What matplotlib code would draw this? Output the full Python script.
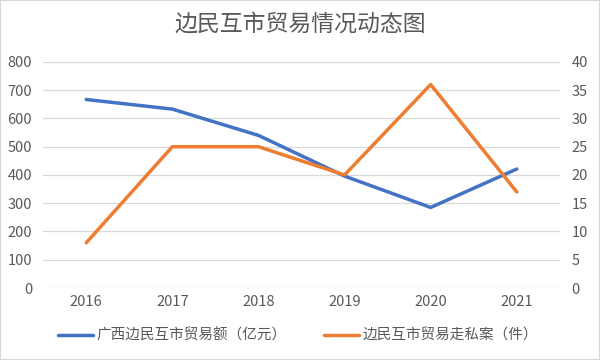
import matplotlib
matplotlib.use("Agg")
import matplotlib.pyplot as plt
from matplotlib.patches import Rectangle

plt.rcParams['font.family'] = ['Noto Sans CJK SC', 'DejaVu Sans']

years = ["2016", "2017", "2018", "2019", "2020", "2021"]
trade_amount = [667, 633, 540, 396, 285, 421]   # 亿元
smuggling_cases = [8, 25, 25, 20, 36, 17]       # 件

title = "边民互市贸易情况动态图"
label_trade = "广西边民互市贸易额（亿元）"
label_cases = "边民互市贸易走私案（件）"

blue = "#4472C4"
orange = "#ED7D31"
grey_text = "#595959"
grid_col = "#D9D9D9"

fig = plt.figure(figsize=(6, 3.6), dpi=100)
ax1 = fig.add_axes([0.072, 0.2, 0.861, 0.628])
ax2 = ax1.twinx()

x = range(len(years))
l1, = ax1.plot(x, trade_amount, color=blue, lw=2.5, solid_capstyle="round", zorder=3)
l2, = ax2.plot(x, smuggling_cases, color=orange, lw=2.5, solid_capstyle="round", zorder=3)

ax1.set_xlim(-0.5, len(years) - 0.5)
ax1.set_ylim(0, 800)
ax1.set_yticks(range(0, 801, 100))
ax2.set_ylim(0, 40)
ax2.set_yticks(range(0, 41, 5))
ax1.set_xticks(list(x))
ax1.set_xticklabels(years)

ax1.grid(axis="y", color=grid_col, lw=0.9, zorder=0)
for ax in (ax1, ax2):
    for s in ax.spines.values():
        s.set_visible(False)
    ax.tick_params(length=0, labelsize=10.5, labelcolor=grey_text)
ax1.tick_params(axis="y", pad=8)
ax2.tick_params(axis="y", pad=8.5)
ax1.tick_params(axis="x", pad=5)

fig.text(0.5, 0.933, title, ha="center", va="center", fontsize=16.5, color=grey_text)

fig.legend([l1, l2], [label_trade, label_cases], loc="center", bbox_to_anchor=(0.497, 0.067),
           ncol=2, frameon=False, fontsize=10.5, labelcolor=grey_text, handlelength=2.4,
           handletextpad=0.25, columnspacing=2.6)

fig.patches.append(Rectangle((0, 0), 1, 1, transform=fig.transFigure, fill=False,
                             edgecolor="#D9D9D9", lw=1.5))

fig.savefig("out.png", dpi=100)
